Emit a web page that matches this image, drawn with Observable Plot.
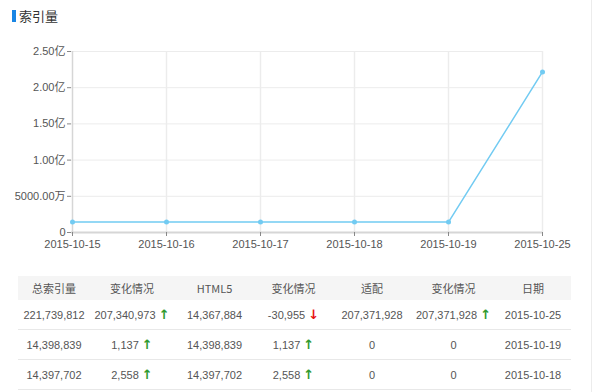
<!DOCTYPE html>
<html><head><meta charset="utf-8">
<script src="https://cdn.jsdelivr.net/npm/d3@7"></script>
<script src="https://cdn.jsdelivr.net/npm/@observablehq/plot@0.6"></script>
<style>
html,body{margin:0;padding:0;background:#fff;width:600px;height:392px;overflow:hidden;font-family:"Liberation Sans","Noto Sans CJK SC",sans-serif;}
#title{position:absolute;left:12px;top:8px;font-size:13px;color:#333;font-family:"Noto Sans CJK SC",sans-serif;line-height:16px;}
#title .bar{display:inline-block;width:4px;height:12px;background:#1a86e4;vertical-align:-1px;margin-right:3px;}
#chart{position:absolute;left:0;top:0;}
#vline{position:absolute;left:591px;top:0;width:1px;height:392px;background:#ececec;}
table{position:absolute;left:18px;top:276px;width:553px;border-collapse:collapse;font-size:11px;color:#555;table-layout:fixed;}
th{background:#f5f5f5;font-weight:normal;height:24px;padding:0;font-family:"Noto Sans CJK SC","Liberation Sans",sans-serif;}
td{height:29px;padding:0;text-align:center;border-bottom:1px solid #e8e8e8;}
.up{color:#2f9a2f;font-weight:bold;font-size:13px;font-family:"DejaVu Sans",sans-serif;}
.down{color:#e81010;font-weight:bold;font-size:13px;font-family:"DejaVu Sans",sans-serif;}
</style></head>
<body>
<div id="title"><span class="bar"></span>索引量</div>
<div id="chart"></div>
<div id="vline"></div>
<table id="tbl"></table>
<script>
const dates = ["2015-10-15","2015-10-16","2015-10-17","2015-10-18","2015-10-19","2015-10-25"];
const indexValues = [14390000, 14392500, 14395144, 14397702, 14398839, 221739812];
const yTicks = [0, 50000000, 100000000, 150000000, 200000000, 250000000];

const headers = ["总索引量","变化情况","HTML5","变化情况","适配","变化情况","日期"];
const rowTotal = ["221,739,812","14,398,839","14,397,702"];
const rowTotalChange = ["207,340,973","1,137","2,558"];
const rowTotalDir = ["up","up","up"];
const rowHtml5 = ["14,367,884","14,398,839","14,397,702"];
const rowHtml5Change = ["-30,955","1,137","2,558"];
const rowHtml5Dir = ["down","up","up"];
const rowAdapt = ["207,371,928","0","0"];
const rowAdaptChange = ["207,371,928","0","0"];
const rowAdaptDir = ["up","",""];
const rowDate = ["2015-10-25","2015-10-19","2015-10-18"];

const data = dates.map((d,i)=>({date:d, value:indexValues[i]}));
const fmt = v => v === 0 ? "0" : v < 100000000 ? (v/10000).toFixed(2)+"万" : (v/100000000).toFixed(2)+"亿";

const plot = Plot.plot({
  width: 600, height: 260,
  marginLeft: 71, marginRight: 58, marginTop: 51, marginBottom: 28,
  style: {fontSize: "11px", color: "#555", fontFamily: "'Liberation Sans','Noto Sans CJK SC',sans-serif", background: "transparent"},
  x: {type: "point", domain: dates, label: null, padding: 0},
  y: {domain: [0, 250000000], label: null},
  marks: [
    Plot.ruleY(yTicks.slice(1), {stroke: "#ececec", strokeWidth: 1}),
    Plot.ruleX(dates.slice(1), {stroke: "#ececec", strokeWidth: 1.5}),
    Plot.ruleX([dates[0]], {stroke: "#d6d6d6", strokeWidth: 1.5}),
    Plot.ruleY([0], {stroke: "#d6d6d6", strokeWidth: 2}),
    Plot.axisY({ticks: yTicks, tickFormat: fmt, tickSize: 4, tickPadding: 2, stroke: "#888", fill: "#555"}),
    Plot.axisX({tickSize: 4, tickPadding: 4, stroke: "#888", fill: "#555"}),
    Plot.line(data, {x: "date", y: "value", stroke: "#72cbf2", strokeWidth: 1.5}),
    Plot.dot(data, {x: "date", y: "value", fill: "#72cbf2", r: 2.5})
  ]
});
document.getElementById("chart").appendChild(plot);

const tbl = document.getElementById("tbl");
const colW = [72, 84, 81, 77, 80, 83, 76];
let html = "<colgroup>" + colW.map(w=>`<col style="width:${w}px">`).join("") + "</colgroup>";
html += "<tr>" + headers.map(h=>`<th>${h}</th>`).join("") + "</tr>";
const arrow = d => d === "up" ? ' <span class="up">↑</span>' : d === "down" ? ' <span class="down">↓</span>' : "";
for (let i = 0; i < rowTotal.length; i++) {
  html += "<tr>" +
    `<td>${rowTotal[i]}</td>` +
    `<td>${rowTotalChange[i]}${arrow(rowTotalDir[i])}</td>` +
    `<td>${rowHtml5[i]}</td>` +
    `<td>${rowHtml5Change[i]}${arrow(rowHtml5Dir[i])}</td>` +
    `<td>${rowAdapt[i]}</td>` +
    `<td>${rowAdaptChange[i]}${arrow(rowAdaptDir[i])}</td>` +
    `<td>${rowDate[i]}</td>` + "</tr>";
}
tbl.innerHTML = html;
</script>
</body></html>
